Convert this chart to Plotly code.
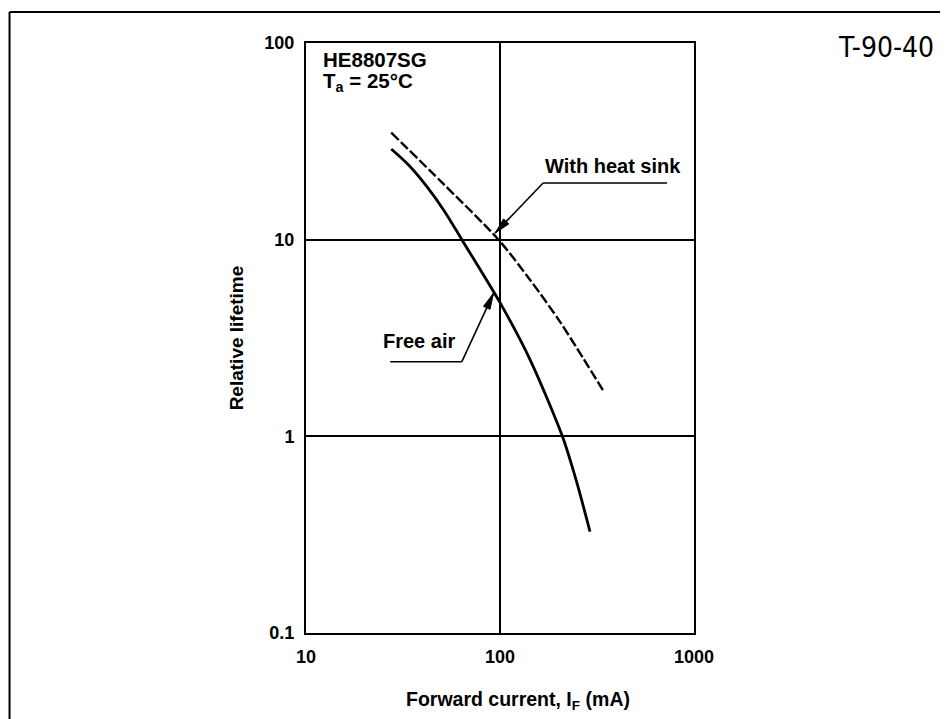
import math
import plotly.graph_objects as go

# ---- data ----
free_air_current = [27.5, 33.9, 42.0, 51.7, 63.6, 100.2, 143.0, 209.7, 246.7, 291.0]   # mA
free_air_lifetime = [28.9, 23.9, 18.6, 13.96, 10.0, 4.77, 2.45, 1.0, 0.60, 0.328]

heat_sink_current = [27.5, 51.1, 98.2, 143.0, 204.0, 268.0, 344.0]          # mA
heat_sink_lifetime = [35.0, 19.2, 10.0, 6.24, 3.82, 2.50, 1.68]

x_tick_vals = [10, 100, 1000]
x_tick_text = ["10", "100", "1000"]
y_tick_vals = [0.1, 1, 10, 100]
y_tick_text = ["0.1", "1", "10", "100"]

FONT = "Liberation Sans, Arial, Helvetica, sans-serif"

# page has an 8px body margin: work in page pixels, convert to figure paper coords
OFF = 8
W, H = 948 - OFF, 719 - OFF
L, R, T, B = 305.7, 694.0, 43.0, 633.0   # plot area in page pixels


def px(x):
    return (x - L) / (R - L)


def py(y):
    return (B - y) / (B - T)


def arrow_path(tip, tail, length=16, half=3.6):
    ux, uy = tip[0] - tail[0], tip[1] - tail[1]
    n = math.hypot(ux, uy)
    ux, uy = ux / n, uy / n
    bx, by = tip[0] - length * ux, tip[1] - length * uy
    nx, ny = -uy, ux
    pts = [tip, (bx + half * nx, by + half * ny), (bx - half * nx, by - half * ny)]
    return "M " + " L ".join(f"{px(a):.5f},{py(b):.5f}" for a, b in pts) + " Z"


fig = go.Figure()
fig.add_trace(go.Scatter(
    x=heat_sink_current, y=heat_sink_lifetime, mode="lines",
    line=dict(color="black", width=2.4, dash="10px,3px", shape="spline", smoothing=0.8),
    name="With heat sink", showlegend=False, hoverinfo="x+y"))
fig.add_trace(go.Scatter(
    x=free_air_current, y=free_air_lifetime, mode="lines",
    line=dict(color="black", width=2.8, shape="spline", smoothing=0.8),
    name="Free air", showlegend=False, hoverinfo="x+y"))

axis_common = dict(
    showline=True, mirror=True, linecolor="black", linewidth=2,
    showgrid=True, gridcolor="black", gridwidth=1.5,
    ticks="", zeroline=False,
    tickfont=dict(family=FONT, size=18, color="black", weight="bold"),
)

fig.update_xaxes(type="log", range=[1, 3], tickvals=x_tick_vals, ticktext=x_tick_text,
                 ticklabelstandoff=6, **axis_common)
fig.update_yaxes(type="log", range=[-1, 2], tickvals=y_tick_vals, ticktext=y_tick_text,
                 ticklabelstandoff=6, **axis_common)

hs_tip, hs_tail = (495, 233), (543, 183)
fa_tip, fa_tail = (493.3, 293.3), (461.7, 361.7)

line_k = dict(color="black", width=1.6)
shapes = [
    # outer frame (left and top edges of the scanned page box)
    dict(type="line", x0=px(OFF + 1), x1=px(OFF + 1), y0=py(12), y1=py(760), line=dict(color="black", width=2)),
    dict(type="line", x0=px(OFF + 1), x1=px(1000), y0=py(12), y1=py(12), line=dict(color="black", width=2)),
    # leader lines of the callouts
    dict(type="line", x0=px(543), x1=px(667), y0=py(183), y1=py(183), line=line_k),
    dict(type="line", x0=px(hs_tail[0]), x1=px(hs_tip[0]), y0=py(hs_tail[1]), y1=py(hs_tip[1]), line=line_k),
    dict(type="path", path=arrow_path(hs_tip, hs_tail), fillcolor="black", line=dict(color="black", width=1)),
    dict(type="line", x0=px(390), x1=px(461.7), y0=py(361.7), y1=py(361.7), line=line_k),
    dict(type="line", x0=px(fa_tail[0]), x1=px(fa_tip[0]), y0=py(fa_tail[1]), y1=py(fa_tip[1]), line=line_k),
    dict(type="path", path=arrow_path(fa_tip, fa_tail), fillcolor="black", line=dict(color="black", width=1)),
]
for s in shapes:
    s["xref"] = "paper"
    s["yref"] = "paper"
    s["layer"] = "above"

ann = [
    dict(text="<b>HE8807SG</b>", x=px(320.7), y=py(59), xanchor="left", yanchor="middle",
         font=dict(size=20.5)),
    dict(text="<b>T<sub>a</sub> = 25°C</b>", x=px(320.7), y=py(82), xanchor="left", yanchor="middle",
         font=dict(size=20.5)),
    dict(text="<b>With heat sink</b>", x=px(613), y=py(166), xanchor="center", yanchor="middle",
         font=dict(size=20)),
    dict(text="<b>Free air</b>", x=px(419), y=py(341), xanchor="center", yanchor="middle",
         font=dict(size=20)),
    # axis titles
    dict(text="<b>Relative lifetime</b>", x=px(236), y=py(338), textangle=-90,
         xanchor="center", yanchor="middle", font=dict(size=19)),
    dict(text="<b>Forward current, I<sub>F</sub> (mA)</b>", x=px(518), y=py(700),
         xanchor="center", yanchor="middle", font=dict(size=19.5)),
    # page code
    dict(text="T-90-40", x=px(886), y=py(47), xanchor="center", yanchor="middle",
         font=dict(size=28, family="DejaVu Sans Condensed, DejaVu Sans, sans-serif")),
]
for a in ann:
    a.setdefault("xref", "paper")
    a.setdefault("yref", "paper")
    a.setdefault("showarrow", False)
    f = a.setdefault("font", {})
    f.setdefault("family", FONT)
    f.setdefault("color", "black")

fig.update_layout(
    width=W, height=H,
    margin=dict(l=L - OFF, r=W - (R - OFF), t=T - OFF, b=H - (B - OFF), pad=0),
    paper_bgcolor="white", plot_bgcolor="white",
    font=dict(family=FONT, color="black"),
    shapes=shapes, annotations=ann, showlegend=False,
)

fig.write_html("out.html")
